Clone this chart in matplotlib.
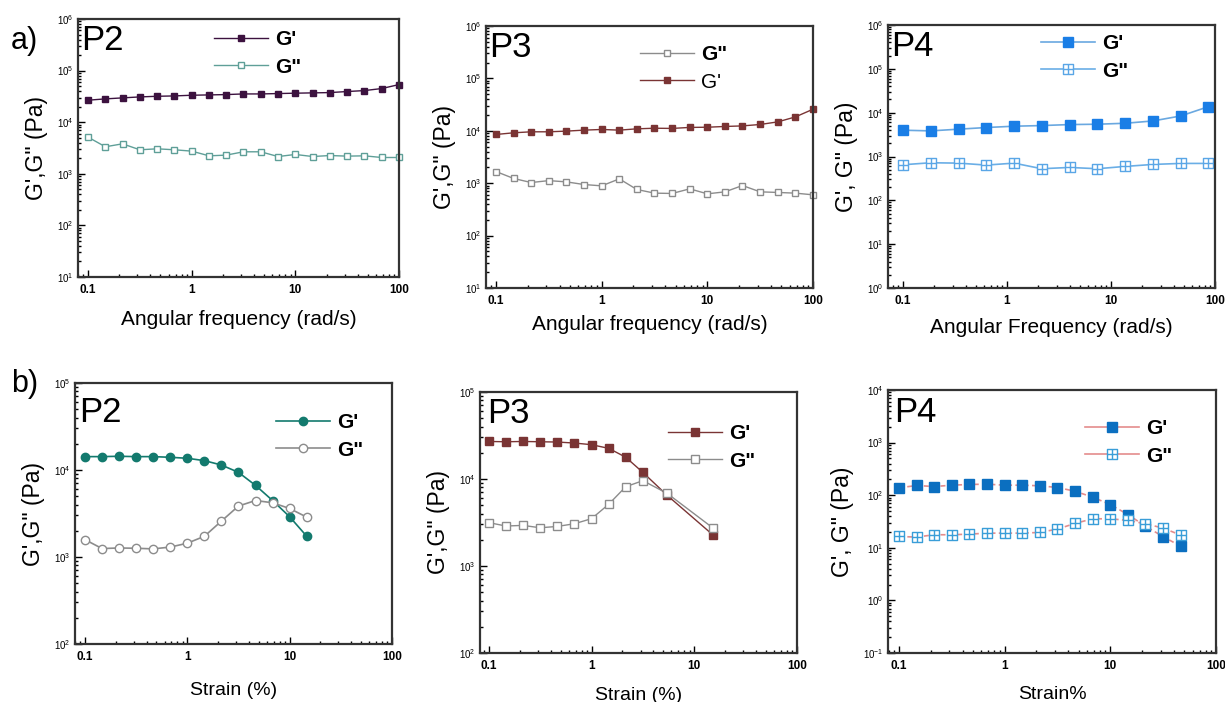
#Rheology of P2/P3/P4: frequency sweeps (a) and strain sweeps (b)

import numpy as np
import matplotlib
matplotlib.use('Agg')
import matplotlib.pyplot as plt
from matplotlib.path import Path
from matplotlib.lines import Line2D
from matplotlib.ticker import LogLocator, LogFormatterSciNotation, FixedLocator, FixedFormatter

plt.rcParams['font.family'] = ['Liberation Sans', 'DejaVu Sans']
plt.rcParams['mathtext.fontset'] = 'custom'
plt.rcParams['mathtext.rm'] = 'Liberation Sans:bold'
plt.rcParams['mathtext.bf'] = 'Liberation Sans:bold'
plt.rcParams['mathtext.default'] = 'bf'

#frequency sweeps (rad/s)
freq_x = [0.1, 0.147, 0.215, 0.316, 0.464, 0.681, 1.0, 1.47, 2.15, 3.16,
          4.64, 6.81, 10, 14.7, 21.5, 31.6, 46.4, 68.1, 100]
p2_freq_g1 = [26700, 28300, 29600, 30900, 31800, 32300, 33300, 33800, 34300, 35300,
              35300, 35900, 36500, 37000, 37500, 39300, 41000, 44900, 53600]
p2_freq_g2 = [5130, 3340, 3810, 2920, 3050, 2920, 2750, 2230, 2300, 2670,
              2670, 2160, 2370, 2160, 2260, 2200, 2230, 2070, 2070]
p3_freq_g1 = [8510, 9160, 9570, 9570, 9860, 10300, 10600, 10300, 10900, 11200,
              11100, 11600, 11700, 12100, 12400, 13200, 14800, 18400, 25800]
p3_freq_g2 = [1670, 1230, 1030, 1120, 1060, 943, 890, 1210, 759, 646,
              637, 780, 627, 684, 903, 684, 666, 646, 600]

p4_freq_x = [0.1, 0.185, 0.342, 0.632, 1.17, 2.16, 4.0, 7.39, 13.7, 25.3, 46.8, 86.5]
p4_freq_g1 = [3980, 3840, 4200, 4580, 4910, 5080, 5350, 5450, 5730, 6470, 8410, 13700]
p4_freq_g2 = [648, 720, 706, 637, 706, 526, 563, 526, 594, 659, 695, 695]

#strain sweeps (%)
p2_strain_x = [0.1, 0.147, 0.215, 0.316, 0.464, 0.681, 1.0, 1.47, 2.15, 3.16,
               4.64, 6.81, 10, 14.7]
p2_strain_g1 = [14250, 14250, 14380, 14250, 14250, 14000, 13640, 12810, 11420, 9400,
                6660, 4460, 2900, 1730]
p2_strain_g2 = [1585, 1250, 1270, 1260, 1240, 1300, 1440, 1730, 2580, 3850,
                4460, 4200, 3610, 2870]

p3_strain_x = [0.1, 0.147, 0.215, 0.316, 0.464, 0.681, 1.0, 1.47, 2.15, 3.16, 5.46, 15.1]
p3_strain_g1 = [27000, 26800, 27000, 26800, 26600, 25900, 24800, 22500, 17800, 11900, 6470, 2290]
p3_strain_g2 = [3150, 2880, 2930, 2750, 2850, 3060, 3500, 5130, 8150, 9570, 6820, 2750]

p4_strain_x = [0.1, 0.147, 0.215, 0.316, 0.464, 0.681, 1.0, 1.47, 2.15, 3.16,
               4.64, 6.81, 10, 14.7, 21.5, 31.6, 46.4]
p4_strain_g1 = [138, 153, 146, 155, 160, 162, 155, 155, 151, 140,
                119, 91.6, 66.4, 42.8, 25.7, 16.3, 10.7]
p4_strain_g2 = [16.4, 16.0, 17.7, 17.7, 18.2, 19.0, 19.0, 19.0, 19.6, 22.7,
                29.1, 35.6, 35.6, 33.2, 28.6, 23.7, 17.4]

#square with a cross inside
boxplus = Path([(-1, -1), (1, -1), (1, 1), (-1, 1), (-1, -1),
                (-1, 0), (1, 0), (0, -1), (0, 1)],
               [Path.MOVETO, Path.LINETO, Path.LINETO, Path.LINETO, Path.CLOSEPOLY,
                Path.MOVETO, Path.LINETO, Path.MOVETO, Path.LINETO])

W, H = 1225, 702
fig = plt.figure(figsize=(W/100, H/100), dpi=100)


def make_ax(l, r, t, b, xmin, ymin, ymax):
    ax = fig.add_axes([l/W, 1-b/H, (r-l)/W, (b-t)/H])
    ax.set_xscale('log')
    ax.set_yscale('log')
    ax.set_xlim(xmin, 100)
    ax.set_ylim(ymin, ymax)
    ax.xaxis.set_major_locator(FixedLocator([0.1, 1, 10, 100]))
    ax.xaxis.set_major_formatter(FixedFormatter(['0.1', '1', '10', '100']))
    ax.xaxis.set_minor_locator(LogLocator(base=10, subs=np.arange(2, 10), numticks=50))
    ax.yaxis.set_major_locator(LogLocator(base=10, numticks=50))
    ax.yaxis.set_major_formatter(LogFormatterSciNotation())
    ax.yaxis.set_minor_locator(LogLocator(base=10, subs=np.arange(2, 10), numticks=50))
    ax.tick_params(which='both', direction='in', top=False, right=False, width=1.0)
    ax.tick_params(which='major', length=5)
    ax.tick_params(which='minor', length=2.5)
    ax.tick_params(axis='x', labelsize=8.5, pad=5)
    ax.tick_params(axis='y', labelsize=7, pad=3)
    for lab in ax.get_xticklabels():
        lab.set_fontweight('bold')
    for s in ax.spines.values():
        s.set_linewidth(1.6)
        s.set_color('#333333')
    return ax


def add_legend(ax, handles, labels, x, y, weights):
    leg = ax.legend(handles, labels, loc='upper left', frameon=False,
                    bbox_to_anchor=(x/W, 1-y/H), bbox_transform=fig.transFigure,
                    borderpad=0, borderaxespad=0, handlelength=2.6, handletextpad=0.35,
                    labelspacing=0.42, fontsize=15)
    for t, w in zip(leg.get_texts(), weights):
        t.set_fontweight(w)


def panel_text(ax, name, x, y):
    #x, y: top-left of the text box in figure pixels
    fig.text(x/W, 1-y/H, name, fontsize=25, va='top', ha='left')


ylab = 'G\',G" (Pa)'

#---- a) P2 frequency
ax = make_ax(78, 399, 19, 277, 0.08, 10, 1e6)
h1, = ax.plot(freq_x, p2_freq_g1, '-s', color='#3c123f', ms=5, lw=1, clip_on=False)
h2, = ax.plot(freq_x, p2_freq_g2, '-s', color='#5f9f98', mfc='white', ms=5, mew=1, lw=1, clip_on=False)
add_legend(ax, [h1, h2], ["G'", 'G"'], 214, 30, ['bold', 'bold'])
panel_text(ax, 'P2', 81, 24)
ax.set_xlabel('Angular frequency (rad/s)', fontsize=15, labelpad=10)
ax.set_ylabel(ylab, fontsize=16.5, labelpad=7)

#---- a) P3 frequency
ax = make_ax(486, 813, 26, 288, 0.0804, 10, 1e6)
h1, = ax.plot(freq_x, p3_freq_g1, '-s', color='#7a3434', ms=5, lw=1, clip_on=False)
h2, = ax.plot(freq_x, p3_freq_g2, '-s', color='#8c8c8c', mfc='white', ms=5, mew=1, lw=1, clip_on=False)
add_legend(ax, [h2, h1], ['G"', "G'"], 640, 45, ['bold', 'normal'])
panel_text(ax, 'P3', 489, 31)
ax.set_xlabel('Angular frequency (rad/s)', fontsize=15, labelpad=6)
ax.set_ylabel(ylab, fontsize=16.5, labelpad=7)

#---- a) P4 frequency
ax = make_ax(888, 1215, 25, 288, 0.0718, 1, 1e6)
h1, = ax.plot(p4_freq_x, p4_freq_g1, '-s', color='#6aa8e0', mfc='#1a7ee6', mec='#1a7ee6',
              ms=6.5, lw=1.2, clip_on=False)
h2, = ax.plot(p4_freq_x, p4_freq_g2, '-', marker=boxplus, color='#6aaee6', mfc='white',
              mec='#5aa6e6', ms=6.5, mew=1, lw=1.2, clip_on=False)
add_legend(ax, [h1, h2], ["G'", 'G"'], 1041, 34, ['bold', 'bold'])
panel_text(ax, 'P4', 891, 30)
ax.set_xlabel('Angular Frequency (rad/s)', fontsize=15, labelpad=8)
ax.set_ylabel('G\', G" (Pa)', fontsize=16.5, labelpad=7)

#---- b) P2 strain
ax = make_ax(75, 392, 383, 644, 0.08, 100, 1e5)
h1, = ax.plot(p2_strain_x, p2_strain_g1, '-o', color='#137a6e', ms=6, lw=1.2, clip_on=False)
h2, = ax.plot(p2_strain_x, p2_strain_g2, '-o', color='#8c8c8c', mfc='white', ms=6, mew=1, lw=1.2,
              clip_on=False)
add_legend(ax, [h1, h2], ["G'", 'G"'], 276, 413, ['bold', 'bold'])
panel_text(ax, 'P2', 79, 396)
ax.set_xlabel('Strain (%)', fontsize=14, labelpad=14)
ax.set_ylabel(ylab, fontsize=16.5, labelpad=7)

#---- b) P3 strain
ax = make_ax(480, 797, 392, 653, 0.082, 100, 1e5)
h1, = ax.plot(p3_strain_x, p3_strain_g1, '-s', color='#7a3434', ms=5.5, lw=1, clip_on=False)
h2, = ax.plot(p3_strain_x, p3_strain_g2, '-s', color='#8c8c8c', mfc='white', ms=5.5, mew=1, lw=1,
              clip_on=False)
add_legend(ax, [h1, h2], ["G'", 'G"'], 668, 424, ['bold', 'bold'])
panel_text(ax, 'P3', 487, 397)
ax.set_xlabel('Strain (%)', fontsize=14, labelpad=11)
ax.set_ylabel(ylab, fontsize=16.5, labelpad=7)

#---- b) P4 strain
ax = make_ax(888, 1216, 390, 653, 0.0787, 0.1, 1e4)
h1, = ax.plot(p4_strain_x, p4_strain_g1, marker='s', color='#e48c8c', ls=(0, (3, 2)),
              mfc='#0b6fc0', mec='#0b6fc0', ms=7.5, lw=1.2, clip_on=False)
h2, = ax.plot(p4_strain_x, p4_strain_g2, marker=boxplus, color='#e48c8c', ls=(0, (3, 2)),
              mfc='white', mec='#3a9ed8', ms=7, mew=1, lw=1.2, clip_on=False)
#legend shows solid lines
k1 = Line2D([], [], marker='s', color='#e48c8c', mfc='#0b6fc0', mec='#0b6fc0', ms=7.5, lw=1.2)
k2 = Line2D([], [], marker=boxplus, color='#e48c8c', mfc='white', mec='#3a9ed8', ms=7, mew=1, lw=1.2)
add_legend(ax, [k1, k2], ["G'", 'G"'], 1085, 419, ['bold', 'bold'])
panel_text(ax, 'P4', 894, 396)
ax.set_xlabel('Strain%', fontsize=14, labelpad=10)
ax.set_ylabel('G\', G" (Pa)', fontsize=16.5, labelpad=7)

#row labels
fig.text(11/W, 1-41/H, 'a)', fontsize=22, va='center', ha='left')
fig.text(11/W, 1-384/H, 'b)', fontsize=22, va='center', ha='left')

fig.savefig('out.png', dpi=100, facecolor='white')
